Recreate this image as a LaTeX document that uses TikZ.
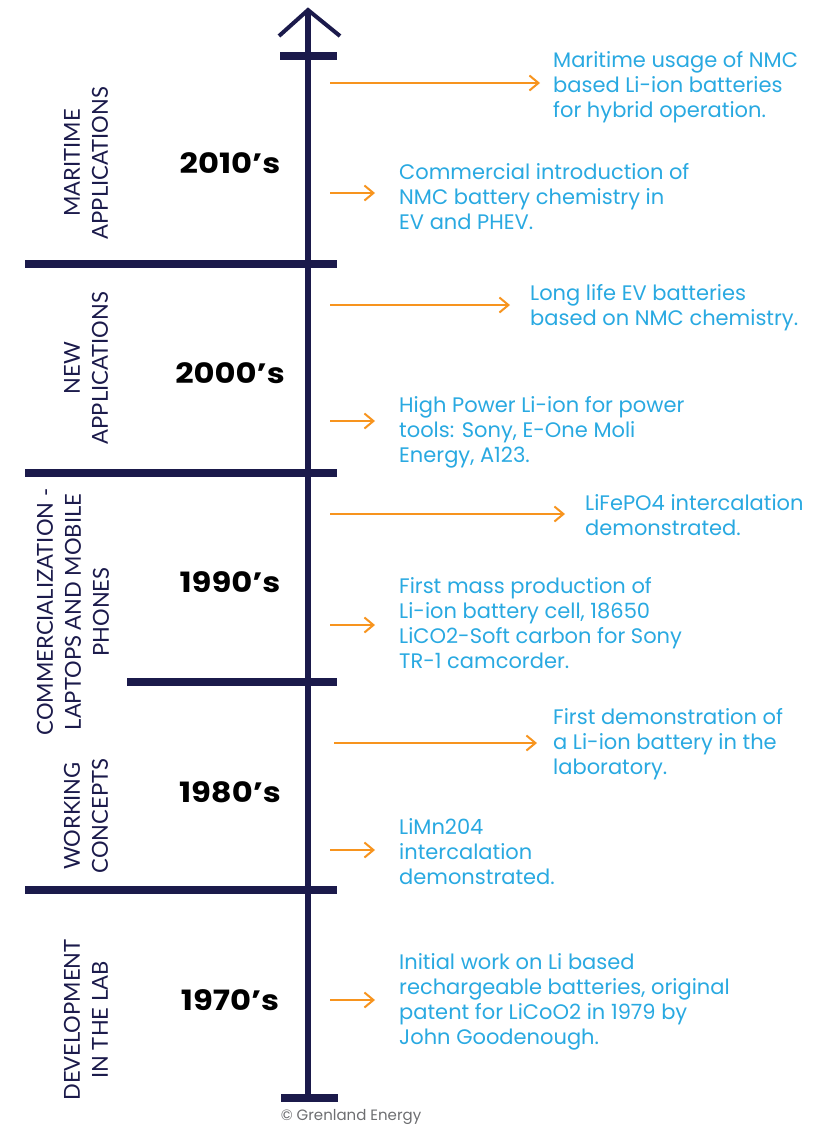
\documentclass[tikz,border=0pt]{standalone}
\usepackage{fontspec}
\setmainfont{Lato}
\newfontfamily\yearfont{Poppins}[FakeStretch=1.15]
\newfontfamily\eventfont{Poppins}
\usepackage{tikz}
\usetikzlibrary{arrows.meta, calc, positioning}
\definecolor{navy}{HTML}{1B1A4B}
\definecolor{evtblue}{HTML}{29A9E1}
\definecolor{evtorange}{HTML}{F7941E}
\definecolor{copygray}{HTML}{6D6E71}

\begin{document}
\begin{tikzpicture}[x=1pt, y=-1pt,
    axis/.style={navy, line width=6pt},
    tick/.style={navy, line width=8.5pt},
    arr/.style={evtorange, line width=2pt, -{Straight Barb[length=9pt, width=15pt]}, shorten >=#1},
    arr/.default=20pt,
    era/.style={navy, rotate=90, align=center, inner sep=0pt, font=\fontsize{22}{28}\selectfont},
    decade/.style={font=\yearfont\bfseries\fontsize{28}{30}\selectfont},
    event/.style={evtblue, anchor=west, align=left, inner sep=0pt, font=\eventfont\fontsize{21}{25}\selectfont}]
    \useasboundingbox (0,0) rectangle (832,1125);

    % time axis
    \draw[axis] (308,1098) -- (308,12);
    \draw[navy, line width=4pt, line join=miter] (279,36) -- (308,10) -- (340,36);
    \draw[tick] (280,56) -- (337,56);
    \draw[tick] (25,264) -- (337,264);
    \draw[tick] (25,473) -- (337,473);
    \draw[tick] (127,682) -- (337,682);
    \draw[tick] (25,890) -- (337,890);
    \draw[tick] (281,1098) -- (338,1098);

    % eras
    \node[era] (maritime) at (86,163) {MARITIME\\APPLICATIONS};
    \node[era] (newapp) at (86,368) {NEW\\APPLICATIONS};
    \node[era] (commerce) at (73,612) {COMMERCIALIZATION -\\LAPTOPS AND MOBILE\\PHONES};
    \node[era] (working) at (86,816) {WORKING\\CONCEPTS};
    \node[era] (devlab) at (86,1020) {DEVELOPMENT\\IN THE LAB};

    % decades
    \node[decade] (d2010) at (230,163) {2010’s};
    \node[decade] (d2000) at (230,373) {2000’s};
    \node[decade] (d1990) at (230,582) {1990’s};
    \node[decade] (d1980) at (230,792) {1980’s};
    \node[decade] (d1970) at (230,1000) {1970’s};

    % events
    \node[event] (e1) at (553,87) {Maritime usage of NMC\\based Li-ion batteries\\for hybrid operation.};
    \node[event] (e2) at (399,197) {Commercial introduction of\\NMC battery chemistry in\\EV and PHEV.};
    \node[event] (e3) at (530,308) {Long life EV batteries\\based on NMC chemistry.};
    \node[event] (e4) at (399,432) {High Power Li-ion for power\\tools: Sony, E-One Moli\\Energy, A123.};
    \node[event] (e5) at (585,515) {LiFePO4 intercalation\\demonstrated.};
    \node[event] (e6) at (399,623) {First mass production of\\Li-ion battery cell, 18650\\LiCO2-Soft carbon for Sony\\TR-1 camcorder.};
    \node[event] (e7) at (553,744) {First demonstration of\\a Li-ion battery in the\\laboratory.};
    \node[event] (e8) at (399,852) {LiMn204\\intercalation\\demonstrated.};
    \node[event] (e9) at (399,1002) {Initial work on Li based\\rechargeable batteries, original\\patent for LiCoO2 in 1979 by\\John Goodenough.};

    \coordinate (s1) at (330,83);
    \coordinate (s2) at (330,193);
    \coordinate (s3) at (330,305);
    \coordinate (s4) at (330,421);
    \coordinate (s5) at (330,514);
    \coordinate (s6) at (330,625);
    \coordinate (s7) at (334,743);
    \coordinate (s8) at (330,850);
    \coordinate (s9) at (330,1000);
    \draw[arr=13pt] (s1) -- (s1 -| e1.west);
    \draw[arr=24pt] (s2) -- (s2 -| e2.west);
    \draw[arr] (s3) -- (s3 -| e3.west);
    \draw[arr=24pt] (s4) -- (s4 -| e4.west);
    \draw[arr] (s5) -- (s5 -| e5.west);
    \draw[arr=24pt] (s6) -- (s6 -| e6.west);
    \draw[arr=16pt] (s7) -- (s7 -| e7.west);
    \draw[arr=24pt] (s8) -- (s8 -| e8.west);
    \draw[arr=24pt] (s9) -- (s9 -| e9.west);

    \node[copygray, font=\eventfont\fontsize{15}{17}\selectfont] (credit) at (351,1117) {© Grenland Energy};
\end{tikzpicture}
\end{document}
